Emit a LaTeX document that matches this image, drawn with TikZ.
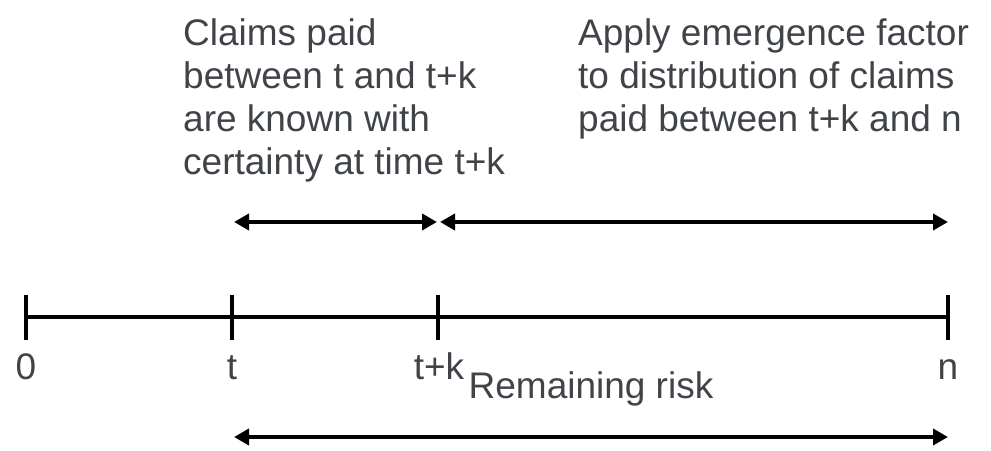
\documentclass[tikz,border=0pt]{standalone}
\usepackage{fontspec}
\setmainfont{Liberation Sans}
\usetikzlibrary{arrows.meta, calc, positioning}
\definecolor{txtgray}{RGB}{64,68,72}

\begin{document}
\begin{tikzpicture}[x=1pt, y=-1pt,
  lbl/.style = {text=txtgray, font=\fontsize{37}{43}\selectfont, inner sep=0pt},
  axis/.style = {line width=4pt},
  span/.style = {line width=4pt, {Triangle[length=15pt,width=16pt]}-{Triangle[length=15pt,width=16pt]}}]
\useasboundingbox (0,0) rectangle (991,450);

% time axis and ticks
\coordinate (p0) at (26,317);
\coordinate (pt) at (232,317);
\coordinate (ptk) at (438,317);
\coordinate (pn) at (948,317);
\draw[axis] (p0) -- (pn);
\foreach \p in {p0,pt,ptk,pn}
  \draw[axis] ($(\p)+(0,-22)$) -- ($(\p)+(0,23)$);

% tick labels
\node[lbl, anchor=base] (l0) at (26,379) {0};
\node[lbl, anchor=base] (lt) at (232,379) {t};
\node[lbl, anchor=base] (ltk) at (439,379) {t+k};
\node[lbl, anchor=base] (ln) at (948,379) {n};

% spans above the axis
\coordinate (a1) at (234,222);
\coordinate (a2) at (437,222);
\coordinate (a3) at (440,222);
\coordinate (a4) at (948,222);
\draw[span] (a1) -- (a2);
\draw[span] (a3) -- (a4);

% remaining risk below
\node[lbl, anchor=base] (risk) at (591,398) {Remaining risk};
\coordinate (b1) at (234,437);
\coordinate (b2) at (948,437);
\draw[span] (b1) -- (b2);

% notes
\node[lbl, anchor=north west, align=left] (known) at (183,18)
  {Claims paid\\between t and t+k\\are known with\\certainty at time t+k};
\node[lbl, anchor=north west, align=left] (emerge) at (578,18)
  {Apply emergence factor\\to distribution of claims\\paid between t+k and n};
\end{tikzpicture}
\end{document}
